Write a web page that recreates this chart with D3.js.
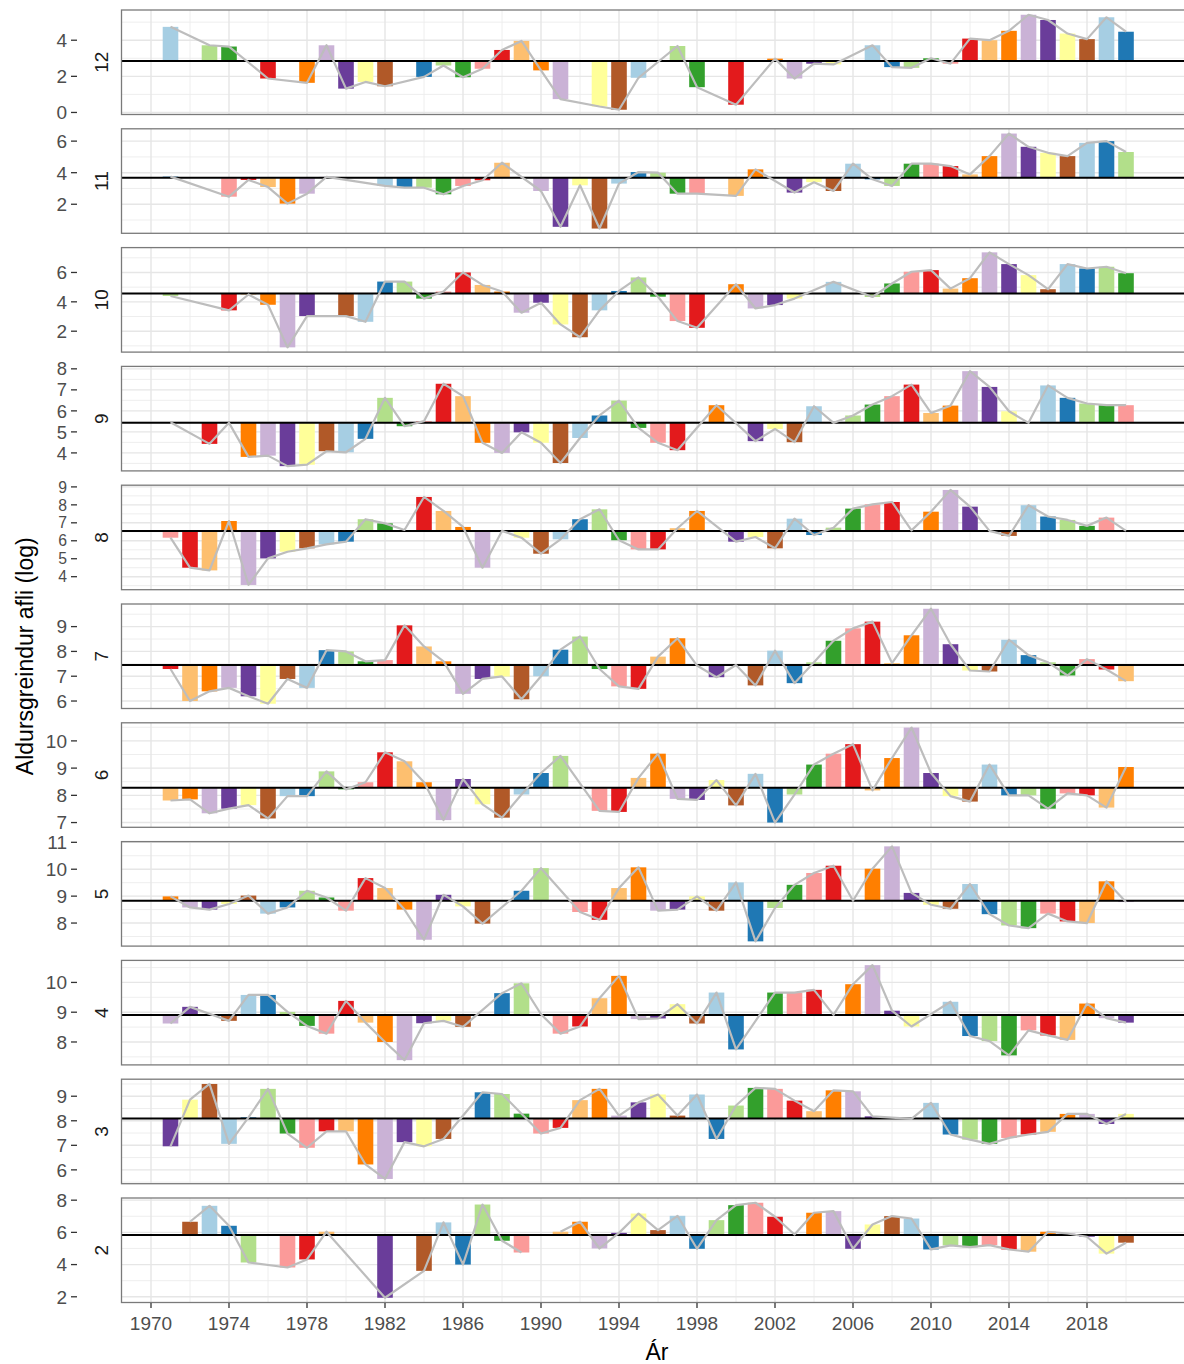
<!DOCTYPE html>
<html>
<head>
<meta charset="utf-8">
<script src="https://cdn.jsdelivr.net/npm/d3@7"></script>
<style>
html,body{margin:0;padding:0;background:#fff;}
svg text{font-family:"Liberation Sans", Arial, Helvetica, sans-serif;}
</style>
</head>
<body>
<svg id="chart" width="1184" height="1364"></svg>
<script>
// ---------------- data ----------------
const years = d3.range(1971, 2021); // 1971 ... 2020
const ageGroups = [12, 11, 10, 9, 8, 7, 6, 5, 4, 3, 2];

// log catch at age, one value per year 1971..2020 (null = no record, NaN = NA -> line break)
const age12 = [4.74,null,3.72,3.65,null,1.88,null,1.64,3.72,1.32,1.69,1.45,null,1.97,2.60,1.95,2.42,3.46,3.96,2.33,
  0.74,null,0.33,0.15,1.92,null,3.68,1.40,null,0.43,null,2.98,1.88,2.70,2.66,null,3.72,2.51,2.47,3.00,
  2.70,4.09,4.00,4.52,5.41,5.12,4.37,4.06,5.27,4.47];
const age11 = [3.75,null,null,2.48,3.54,3.09,2.04,2.67,3.73,null,null,3.16,3.05,3.05,2.63,3.16,3.52,4.63,null,2.84,
  0.57,3.20,0.46,3.31,4.04,4.00,2.67,2.67,null,2.53,4.21,null,2.74,3.40,2.84,4.57,3.58,3.16,4.57,4.57,
  4.42,3.89,5.05,6.48,5.64,5.26,5.05,5.89,6.00,5.31];
const age10 = [4.40,null,null,3.42,4.50,3.80,0.90,3.03,null,3.03,2.64,5.38,5.38,4.22,4.70,6.00,5.15,4.70,3.26,3.94,
  2.46,1.59,3.42,4.74,5.66,4.35,2.69,2.23,null,5.20,3.55,3.78,4.22,null,5.36,null,4.33,5.25,6.05,6.16,
  4.90,5.61,7.37,6.57,5.82,4.86,6.57,6.27,6.39,5.95];
const age9 = [5.46,null,4.43,5.43,3.81,3.87,3.37,3.44,4.08,4.03,4.67,6.62,5.27,5.51,7.29,6.70,4.48,4.00,4.98,4.48,
  3.52,4.71,5.78,6.49,5.19,4.48,4.13,null,6.27,null,4.56,5.14,4.51,6.22,5.43,5.78,6.30,6.70,7.25,5.90,
  6.25,7.89,7.14,5.98,5.43,7.21,6.62,6.35,6.27,6.27];
const age8 = [6.17,4.50,4.35,7.10,3.54,5.02,5.39,5.58,5.80,5.95,7.20,6.97,6.60,8.44,7.66,6.77,4.50,6.55,6.17,5.28,
  6.08,7.20,7.75,6.03,5.52,5.52,6.70,7.66,null,5.95,6.21,5.58,7.23,6.32,6.73,7.79,8.03,8.16,6.58,7.62,
  8.83,7.90,6.55,6.27,7.98,7.35,7.16,6.83,7.29,6.55];
const age7 = [7.29,6.00,6.39,6.53,6.19,5.89,6.89,6.53,8.05,8.00,7.60,7.65,9.05,8.20,7.60,6.29,6.89,6.99,6.07,7.00,
  8.07,8.60,7.29,6.59,6.49,7.79,8.53,7.43,6.96,7.45,6.63,8.03,6.72,7.56,8.43,8.93,9.20,7.53,8.65,9.72,
  8.29,7.23,7.19,8.47,7.85,7.56,7.03,7.69,7.27,6.80];
const age6 = [7.81,7.85,7.34,7.51,7.64,7.15,7.97,7.97,8.88,8.22,8.48,9.58,9.25,8.48,7.09,8.60,7.67,7.18,8.03,8.82,
  9.45,null,7.43,7.39,8.64,9.53,7.87,7.83,8.56,7.63,8.79,7.00,8.03,9.13,9.53,9.88,8.18,9.37,10.49,8.82,
  7.97,7.77,9.13,8.00,8.00,7.51,8.07,8.00,7.55,9.04];
const age5 = [8.99,8.58,8.50,8.71,9.02,8.35,8.58,9.20,8.95,8.46,9.67,9.30,8.50,7.38,9.05,8.62,7.98,null,9.20,10.04,
  null,8.41,8.12,9.30,10.07,8.46,8.50,8.99,8.46,9.51,7.32,8.56,9.42,9.86,10.13,8.83,10.02,10.85,9.12,8.68,
  8.53,9.45,8.33,7.91,7.81,8.35,8.06,8.00,9.55,8.78];
const age4 = [8.62,9.18,null,8.71,9.58,9.58,9.01,8.54,8.28,9.38,8.65,8.00,7.39,8.63,8.71,8.51,null,9.64,9.97,8.93,
  8.28,8.52,9.47,10.22,8.77,8.79,9.27,8.62,9.66,7.75,null,9.66,9.66,9.75,8.91,9.94,10.58,9.05,8.52,null,
  9.35,8.20,8.03,7.55,8.39,8.22,8.07,9.29,8.80,8.65];
const age3 = [6.96,8.86,9.50,7.06,8.14,9.30,7.48,6.90,7.57,7.57,6.22,5.63,7.13,6.96,7.26,null,9.16,9.09,8.29,7.48,
  7.71,8.84,9.30,8.21,8.75,9.07,8.21,9.07,7.26,8.62,9.34,9.30,8.82,8.39,9.24,9.20,8.18,null,8.08,8.73,
  7.44,7.23,7.06,7.30,7.44,7.55,8.28,8.28,7.87,8.28];
const age2 = [null,6.66,7.65,6.41,4.13,null,3.82,4.32,6.04,null,null,1.94,null,3.61,6.62,4.00,7.73,5.48,4.75,NaN,
  6.04,6.66,5.00,5.97,7.17,6.14,7.03,4.98,6.76,7.69,7.84,6.97,5.87,7.22,7.32,4.98,6.49,7.01,6.86,4.94,
  5.19,5.08,5.21,4.94,4.80,6.04,5.93,5.73,4.68,5.36];
const ageSeries = [age12, age11, age10, age9, age8, age7, age6, age5, age4, age3, age2];

// horizontal reference level (mean) per age panel
const meanLevels = [2.85, 3.68, 4.56, 5.43, 6.55, 7.45, 8.28, 8.83, 8.91, 8.09, 5.83];

// y tick labels per panel
const yTickLabels = [[0,2,4],[2,4,6],[2,4,6],[4,5,6,7,8],[4,5,6,7,8,9],[6,7,8,9],[7,8,9,10],[8,9,10,11],[8,9,10],[6,7,8,9],[2,4,6,8]];
// x tick labels
const xTickLabels = [1970,1974,1978,1982,1986,1990,1994,1998,2002,2006,2010,2014,2018];

const yTitle = "Aldursgreindur afli (log)";
const xTitle = "Ár";

// ---------------- layout ----------------
const panelLeft = 121.5, panelRight = 1192;
const panelTop0 = 10, panelPitch = 118.8, panelH = 104.5;
const x = d3.scaleLinear().domain([1970, 2018]).range([151, 1087]);
const barHalf = 0.4;
const palette = d3.schemePaired;
const colorFor = (year, age) => palette[(((year - age - 1959) % 12) + 12) % 12];
const tickFont = 19;

const svg = d3.select('#chart');
svg.append('rect').attr('width',1184).attr('height',1364).attr('fill','#fff');

// x breaks (major + minor)
const xStep = xTickLabels[1]-xTickLabels[0];
const xExt = [xTickLabels[0]-xStep, ...xTickLabels, xTickLabels[xTickLabels.length-1]+xStep];
const xMinor = d3.pairs(xExt).map(([a,b]) => (a+b)/2);
const xVisible = v => x(v) > panelLeft && x(v) < 1140;

let lastBottom = 0;
ageGroups.forEach((age, i) => {
  const vals = ageSeries[i];
  const mean = meanLevels[i];
  const top = panelTop0 + i*panelPitch;
  const bottom = top + panelH;
  lastBottom = bottom;
  const finite = vals.filter(v => v !== null && !isNaN(v)).concat([mean]);
  const [lo, hi] = d3.extent(finite);
  const pad = (hi - lo) * 0.05;
  const y = d3.scaleLinear().domain([lo - pad, hi + pad]).range([bottom, top]);
  const g = svg.append('g');

  // grid
  const ticks = yTickLabels[i];
  const st = ticks[1]-ticks[0];
  const ext = [ticks[0]-st, ...ticks, ticks[ticks.length-1]+st];
  const yMinor = d3.pairs(ext).map(([a,b]) => (a+b)/2).filter(v => v > y.domain()[0] && v < y.domain()[1]);
  g.selectAll('.ymin').data(yMinor).enter().append('line')
    .attr('x1', panelLeft).attr('x2', panelRight).attr('y1', d=>y(d)).attr('y2', d=>y(d))
    .attr('stroke', '#ececec').attr('stroke-width', 0.9);
  g.selectAll('.xmin').data(xMinor.filter(xVisible)).enter().append('line')
    .attr('y1', top).attr('y2', bottom).attr('x1', d=>x(d)).attr('x2', d=>x(d))
    .attr('stroke', '#ececec').attr('stroke-width', 0.9);
  g.selectAll('.ymaj').data(ticks).enter().append('line')
    .attr('x1', panelLeft).attr('x2', panelRight).attr('y1', d=>y(d)).attr('y2', d=>y(d))
    .attr('stroke', '#e6e6e6').attr('stroke-width', 1.4);
  g.selectAll('.xmaj').data(xTickLabels.filter(xVisible)).enter().append('line')
    .attr('y1', top).attr('y2', bottom).attr('x1', d=>x(d)).attr('x2', d=>x(d))
    .attr('stroke', '#e6e6e6').attr('stroke-width', 1.4);

  // bars
  const rows = years.map((yr, k) => ({year: yr, v: vals[k]})).filter(d => d.v !== null);
  const barRows = rows.filter(d => !isNaN(d.v));
  g.selectAll('.bar').data(barRows).enter().append('rect')
    .attr('x', d => x(d.year - barHalf))
    .attr('width', d => x(d.year + barHalf) - x(d.year - barHalf))
    .attr('y', d => Math.min(y(d.v), y(mean)))
    .attr('height', d => Math.abs(y(d.v) - y(mean)))
    .attr('fill', d => colorFor(d.year, age));

  // mean line
  g.append('line').attr('x1', panelLeft).attr('x2', panelRight)
    .attr('y1', y(mean)).attr('y2', y(mean))
    .attr('stroke', '#000').attr('stroke-width', 2);

  // grey connecting line
  const line = d3.line().defined(d => !isNaN(d.v)).x(d => x(d.year)).y(d => y(d.v));
  g.append('path').datum(rows).attr('d', line)
    .attr('fill', 'none').attr('stroke', '#bdbdbd').attr('stroke-width', 2.2)
    .attr('stroke-linejoin', 'round');

  // panel border
  g.append('rect').attr('x', panelLeft).attr('y', top)
    .attr('width', panelRight - panelLeft).attr('height', panelH)
    .attr('fill', 'none').attr('stroke', '#7a7a7a').attr('stroke-width', 1.3);

  // y axis (label size limited by the tick spacing so labels never collide)
  const spacing = Math.abs(y(ticks[0]) - y(ticks[1]));
  const fs = Math.min(tickFont, spacing / 1.14);
  g.selectAll('.ytk').data(ticks).enter().append('line')
    .attr('x1', 71).attr('x2', 77).attr('y1', d=>y(d)).attr('y2', d=>y(d))
    .attr('stroke', '#333').attr('stroke-width', 1.3);
  g.selectAll('.ylb').data(ticks).enter().append('text')
    .attr('x', 67).attr('y', d => y(d)).attr('dy', '0.36em')
    .attr('text-anchor', 'end').attr('font-size', fs).attr('fill', '#4d4d4d')
    .text(d => d);

  // strip label
  g.append('text')
    .attr('transform', `translate(108,${(top+bottom)/2}) rotate(-90)`)
    .attr('text-anchor', 'middle').attr('font-size', 19).attr('fill', '#1a1a1a')
    .text(age);
});

// x axis
const xa = svg.append('g');
xa.selectAll('line').data(xTickLabels).enter().append('line')
  .attr('x1', d=>x(d)).attr('x2', d=>x(d)).attr('y1', lastBottom+0.5).attr('y2', lastBottom+5.5)
  .attr('stroke', '#333').attr('stroke-width', 1.3);
xa.selectAll('text').data(xTickLabels).enter().append('text')
  .attr('x', d=>x(d)).attr('y', 1330).attr('text-anchor', 'middle')
  .attr('font-size', tickFont).attr('fill', '#4d4d4d').text(d => d);

svg.append('text').attr('x', 657).attr('y', 1360).attr('text-anchor', 'middle')
  .attr('font-size', 23).attr('fill', '#000').text(xTitle);
svg.append('text')
  .attr('transform', `translate(33,${(panelTop0 + lastBottom)/2}) rotate(-90)`)
  .attr('text-anchor', 'middle').attr('font-size', 23).attr('fill', '#000').text(yTitle);
</script>
</body>
</html>
